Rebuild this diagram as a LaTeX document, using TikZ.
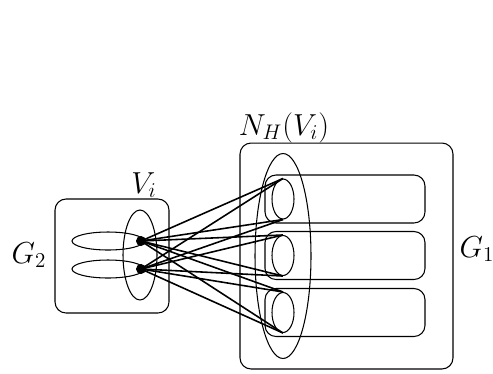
\documentclass[tikz,border=0pt]{standalone}
\usepackage{amsmath,amssymb}
\usepackage{tikz}
\usetikzlibrary{shapes.geometric,calc}
\tikzset{
  every picture/.style = {
    font=\LARGE
  }
}
\tikzset{
  part/.style={
    draw,
    line width=0.6pt,
    rounded corners=0.22cm,
    inner sep=0pt
  },
  blob/.style={
    draw,
    line width=0.6pt,
    shape=ellipse,
    inner sep=0pt
  },
  vertex/.style={
    inner sep=0.065cm,
    shape=circle,
    draw,
    fill
  },
  link/.style={
    line width=0.9pt
  },
  tag/.style={
    anchor=base,
    inner sep=0pt
  }
}

\begin{document}
\begin{tikzpicture}[x=0.02cm,y=-0.02cm]
        \useasboundingbox (0,0) rectangle (493,373);
        % G_2 side
        \node[part, minimum width=2.28cm, minimum height=2.28cm] (gtwo) at (112,256) {};
        \node[blob, minimum width=1.44cm, minimum height=0.36cm] (rowa) at (108,241) {};
        \node[blob, minimum width=1.44cm, minimum height=0.36cm] (rowb) at (108,269) {};
        \node[blob, minimum width=0.68cm, minimum height=1.8cm] (vi) at (140,255) {};
        \node[vertex] (va) at (141,241) {};
        \node[vertex] (vb) at (141,269) {};
        % G_1 side
        \node[part, minimum width=4.26cm, minimum height=4.52cm] (gone) at (346.5,256) {};
        \node[part, minimum width=3.2cm, minimum height=0.96cm] (bara) at (345,199) {};
        \node[part, minimum width=3.2cm, minimum height=0.96cm] (barb) at (345,255.5) {};
        \node[part, minimum width=3.2cm, minimum height=0.96cm] (barc) at (345,312.5) {};
        \node[blob, minimum width=1.12cm, minimum height=4.1cm] (nh) at (283,256) {};
        \node[blob, minimum width=0.44cm, minimum height=0.8cm] (wa) at (283,199) {};
        \node[blob, minimum width=0.44cm, minimum height=0.8cm] (wb) at (283,255.5) {};
        \node[blob, minimum width=0.44cm, minimum height=0.8cm] (wc) at (283,312.5) {};
        % labels
        \node[tag] (lvi) at (144,193) {$V_i$};
        \node[tag] (lnh) at (284,135) {$N_H(V_i)$};
        \node[tag] (lgtwo) at (29,263) {$G_2$};
        \node[tag] (lgone) at (477,257) {$G_1$};
        % edges
        \foreach \v in {va,vb}{
          \foreach \w in {wa,wb,wc}{
            \draw[link] (\v.center) -- (\w.north);
            \draw[link] (\v.center) -- (\w.south);
          }
        }
    \end{tikzpicture}
\end{document}
